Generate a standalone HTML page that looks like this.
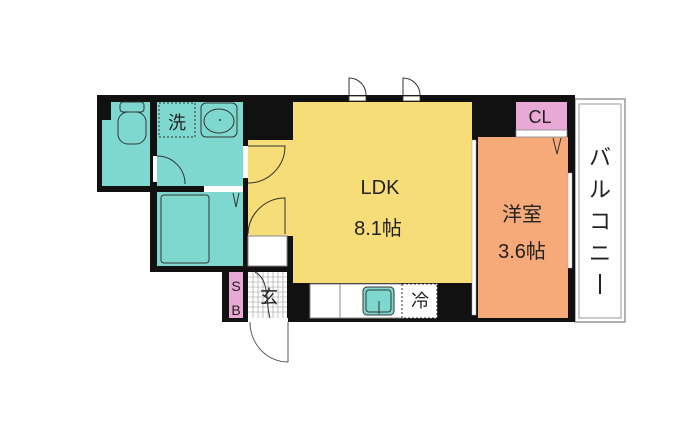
<!DOCTYPE html>
<html><head><meta charset="utf-8"><style>
html,body{margin:0;padding:0;background:#fff;width:700px;height:442px;overflow:hidden}
svg{display:block}
text{font-family:"Liberation Sans","Noto Sans CJK JP",sans-serif;fill:#222}
</style></head><body>
<svg width="700" height="442" viewBox="0 0 700 442" xmlns="http://www.w3.org/2000/svg">
<!-- balcony -->
<rect x="575" y="99" width="50" height="223" fill="#fff" stroke="#999" stroke-width="1.5"/>
<rect x="579" y="104" width="42" height="214" fill="#fff" stroke="#999" stroke-width="1"/>
<!-- black structure -->
<rect x="97" y="95" width="150" height="97" fill="#111"/>
<rect x="150" y="186" width="98" height="86" fill="#111"/>
<rect x="243" y="95" width="332" height="227" fill="#111"/>
<rect x="222" y="268" width="70" height="54" fill="#111"/>
<!-- toilet -->
<rect x="102" y="102" width="48" height="84" fill="#7ed8cf"/>
<rect x="97" y="95" width="14" height="25" fill="#111"/>
<rect x="120" y="102" width="24" height="10" rx="3" fill="none" stroke="#333"/>
<rect x="118" y="112" width="28" height="32" rx="10" fill="none" stroke="#333"/>
<!-- wash -->
<rect x="157" y="102" width="86" height="84" fill="#7ed8cf"/>
<rect x="159" y="103" width="36" height="34" fill="none" stroke="#333" stroke-dasharray="2,2"/>
<text x="177" y="129" font-size="18" text-anchor="middle">洗</text>
<rect x="201" y="103" width="36" height="34" rx="5" fill="none" stroke="#333"/>
<ellipse cx="219" cy="121" rx="15" ry="12" fill="none" stroke="#333"/>
<circle cx="220" cy="120" r="1" fill="#333"/>
<rect x="153" y="156" width="4" height="26" fill="#fff"/>
<path d="M157 156 A28 28 0 0 1 185 184" fill="none" stroke="#333"/>
<!-- bath -->
<rect x="157" y="192" width="86" height="74" fill="#7ed8cf"/>
<rect x="204" y="186" width="39" height="6" fill="#fff"/>
<rect x="161" y="195" width="48" height="68" rx="3" fill="none" stroke="#333"/>
<path d="M233 193 L236 207 L239 193" fill="none" stroke="#333"/>
<!-- hall / LDK yellow -->
<rect x="248" y="140" width="45" height="96" fill="#f6dd78"/>
<rect x="293" y="102" width="179" height="181" fill="#f6dd78"/>
<rect x="243" y="146" width="5" height="32" fill="#fff"/>
<path d="M248 146 L285 146 A37 37 0 0 1 248 183" fill="none" stroke="#333"/>
<path d="M248 234 A37 37 0 0 1 285 198 L285 234" fill="none" stroke="#333"/>
<!-- entry -->
<rect x="248" y="236" width="39" height="30" fill="#fff" stroke="#888"/>
<rect x="248" y="272" width="39" height="46" fill="#fff"/>
<g stroke="#999" stroke-width="0.6">
<path d="M248 277H287M248 282H287M248 287H287M248 292H287M248 297H287M248 302H287M248 307H287M248 312H287"/>
<path d="M253 272V318M258 272V318M263 272V318M268 272V318M273 272V318M278 272V318M283 272V318"/>
</g>
<text x="269" y="303" font-size="18" text-anchor="middle">玄</text>
<path d="M255 272 C270 280 265 300 270 318" fill="none" stroke="#333"/>
<rect x="229" y="272" width="14" height="46" fill="#e9a9d6"/>
<text x="236" y="291" font-size="14" text-anchor="middle">S</text>
<text x="236" y="315" font-size="14" text-anchor="middle">B</text>
<rect x="248" y="318" width="40" height="4" fill="#fff"/>
<path d="M250 322 A38 40 0 0 0 288 362 L288 322" fill="none" stroke="#555"/>
<!-- kitchen -->
<rect x="310" y="284" width="127" height="34" fill="#fff" stroke="#888"/>
<line x1="340" y1="284" x2="340" y2="318" stroke="#888"/>
<rect x="363" y="287" width="31" height="28" rx="4" fill="#7ed8cf" stroke="#333"/>
<rect x="366" y="290" width="25" height="22" rx="3" fill="none" stroke="#333"/>
<line x1="379" y1="301" x2="379" y2="314" stroke="#333"/>
<rect x="402" y="284" width="35" height="34" fill="#fff" stroke="#333" stroke-dasharray="2,2"/>
<text x="420" y="307" font-size="18" text-anchor="middle">冷</text>
<!-- small top doors -->
<rect x="349" y="96" width="17" height="5" fill="#fff" stroke="#333" stroke-width="0.8"/>
<path d="M349 95 L349 78 A17 17 0 0 1 366 95" fill="#fff" stroke="#333"/>
<rect x="403" y="96" width="17" height="5" fill="#fff" stroke="#333" stroke-width="0.8"/>
<path d="M403 95 L403 78 A17 17 0 0 1 420 95" fill="#fff" stroke="#333"/>
<text x="380" y="194" font-size="20" text-anchor="middle">LDK</text>
<text x="378" y="235" font-size="20" text-anchor="middle">8.1帖</text>
<!-- western -->
<rect x="472" y="140" width="4" height="175" fill="#fff" stroke="#999" stroke-width="0.5"/>
<rect x="478" y="137" width="90" height="181" fill="#f6a979"/>
<rect x="516" y="102" width="51" height="28" fill="#e9a9d6"/>
<rect x="516" y="130" width="51" height="7" fill="#fff" stroke="#888" stroke-width="0.8"/>
<text x="540" y="123" font-size="18" text-anchor="middle">CL</text>
<path d="M553 138 L557 154 L561 138" fill="none" stroke="#333"/>
<rect x="568" y="173" width="4" height="95" fill="#fff" stroke="#999" stroke-width="0.5"/>
<text x="522" y="221" font-size="20" text-anchor="middle">洋室</text>
<text x="522" y="258" font-size="20" text-anchor="middle">3.6帖</text>
<!-- balcony text -->
<g font-size="22" text-anchor="middle">
<text x="600" y="165">バ</text>
<text x="600" y="197">ル</text>
<text x="600" y="229">コ</text>
<text x="600" y="261">ニ</text>
</g>
<line x1="600" y1="274" x2="600" y2="294" stroke="#222" stroke-width="2"/>
</svg>
</body></html>
